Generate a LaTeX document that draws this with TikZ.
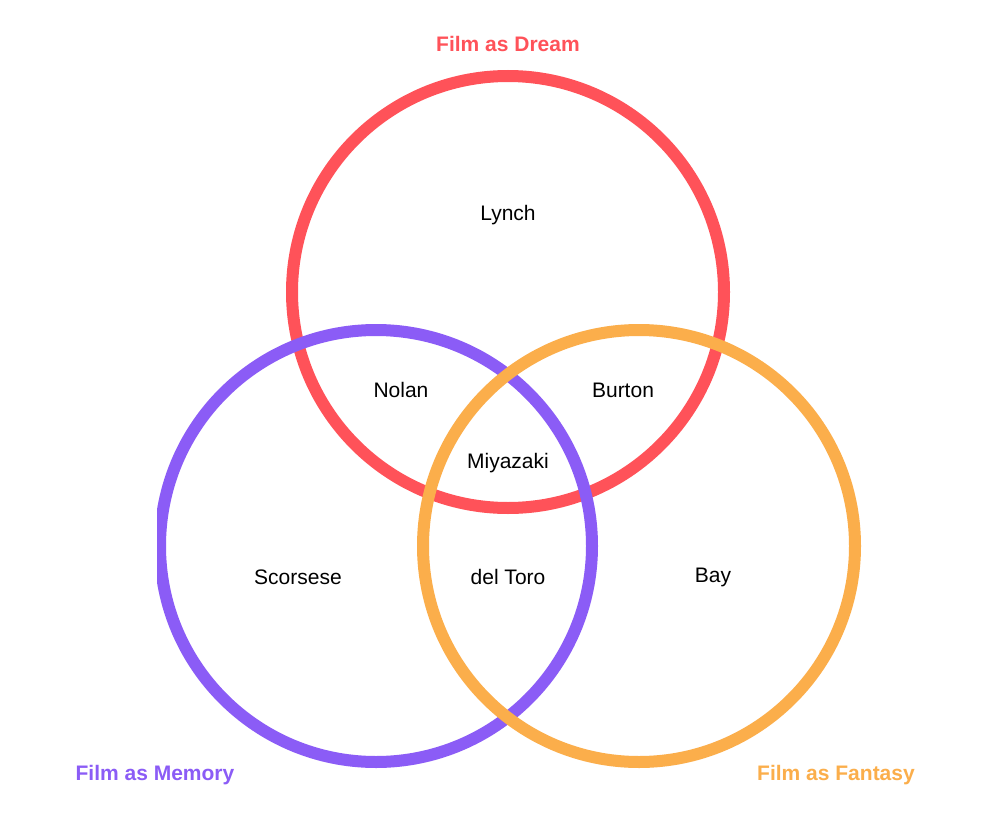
\documentclass[tikz,border=0pt]{standalone}
\usepackage{fontspec}
\setmainfont{Liberation Sans}
\definecolor{cred}{HTML}{FF5259}
\definecolor{cpur}{HTML}{8B5CF6}
\definecolor{corg}{HTML}{FBAE4B}
\begin{document}
\begin{tikzpicture}[x=1pt,y=-1pt,
  ring/.style={line width=12pt},
  nm/.style={font=\fontsize{21}{24}\selectfont},
  ttl/.style={font=\fontsize{21}{24}\selectfont\bfseries}]
\useasboundingbox[fill=white] (0,0) rectangle (990,832);
\draw[ring,cred] (508,292) circle (216);
\begin{scope}
\clip (157,0) rectangle (990,832);
\draw[ring,cpur] (376,546) circle (216);
\end{scope}
\draw[ring,corg] (639,546) circle (216);
\node[ttl,text=cred] (t1) at (508,44) {Film as Dream};
\node[ttl,text=cpur] (t2) at (155,775) {Film as Memory};
\node[ttl,text=corg] (t3) at (836,775) {Film as Fantasy};
\node[nm] (a) at (508,215) {Lynch};
\node[nm] (b) at (401,390) {Nolan};
\node[nm] (c) at (623,390) {Burton};
\node[nm] (d) at (508,463) {Miyazaki};
\node[nm] (e) at (298,577) {Scorsese};
\node[nm] (f) at (508,577) {del Toro};
\node[nm] (g) at (713,577) {Bay};
\end{tikzpicture}
\end{document}
